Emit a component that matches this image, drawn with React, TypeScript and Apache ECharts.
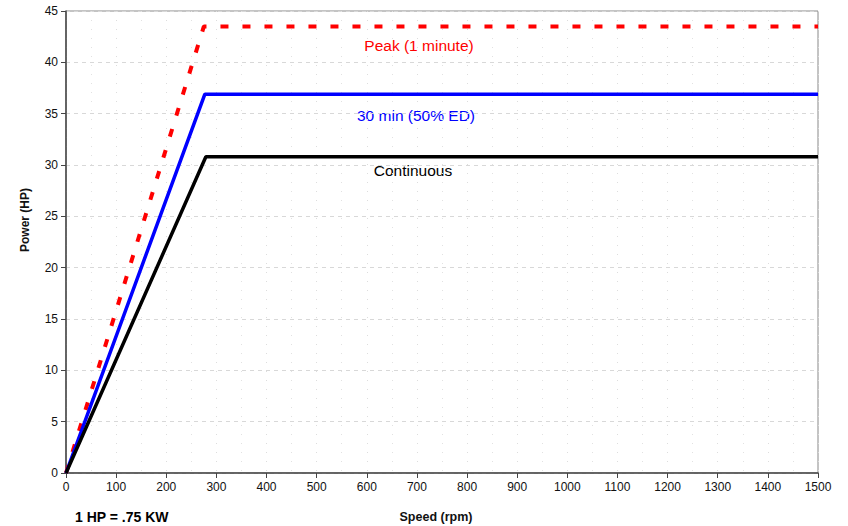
import React, { useEffect, useRef } from "react";
import * as echarts from "echarts";

const peakSpeed = [0, 275, 1500];
const peakPower = [0, 43.5, 43.5];
const thirtySpeed = [0, 277, 1500];
const thirtyPower = [0, 36.9, 36.9];
const contSpeed = [0, 279, 1500];
const contPower = [0, 30.8, 30.8];

const seriesNames = ["Peak (1 minute)", "30 min (50% ED)", "Continuous"];
const xTitle = "Speed (rpm)";
const yTitle = "Power (HP)";
const note = "1 HP = .75 KW";

const pairs = (xs: number[], ys: number[]) => xs.map((x, i) => [x, ys[i]]);

export default function App() {
  const ref = useRef<HTMLDivElement>(null);
  useEffect(() => {
    document.body.style.margin = "0";
    if (!ref.current) return;
    const chart = echarts.init(ref.current, undefined, { renderer: "svg" });
    const font = "Liberation Sans, Arial, sans-serif";
    chart.setOption({
      animation: false,
      backgroundColor: "#fff",
      grid: {
        left: 66,
        right: 30,
        top: 11,
        bottom: 53,
        show: true,
        borderColor: "#888",
        borderWidth: 1,
      },
      xAxis: {
        type: "value",
        min: 0,
        max: 1500,
        interval: 100,
        axisLine: { onZero: false, lineStyle: { color: "#444", width: 1.5 } },
        axisTick: { show: true, length: 5, lineStyle: { color: "#444" } },
        axisLabel: {
          color: "#111",
          fontFamily: font,
          fontSize: 12,
          margin: 8,
          formatter: (v: number) => String(v),
        },
        splitLine: { show: true, lineStyle: { color: "#ddd", type: [1, 8] } },
        minorTick: { show: false, splitNumber: 2 },
        minorSplitLine: { show: true, lineStyle: { color: "#e2e2e2", type: [1, 8] } },
      },
      yAxis: {
        type: "value",
        min: 0,
        max: 45,
        interval: 5,
        axisLine: { onZero: false, lineStyle: { color: "#444", width: 1.5 } },
        axisTick: { show: true, length: 5, lineStyle: { color: "#444" } },
        axisLabel: {
          color: "#111",
          fontFamily: font,
          fontSize: 12,
          margin: 8,
          formatter: (v: number) => String(v),
        },
        splitLine: { show: true, lineStyle: { color: "#d8d8d8", type: [4, 4] } },
      },
      series: [
        {
          name: seriesNames[0],
          type: "line",
          data: pairs(peakSpeed, peakPower),
          showSymbol: false,
          symbol: "none",
          lineStyle: { color: "#ff0000", width: 4, type: [8, 14] },
          z: 3,
        },
        {
          name: seriesNames[1],
          type: "line",
          data: pairs(thirtySpeed, thirtyPower),
          showSymbol: false,
          symbol: "none",
          lineStyle: { color: "#0000ff", width: 3.5 },
          z: 4,
        },
        {
          name: seriesNames[2],
          type: "line",
          data: pairs(contSpeed, contPower),
          showSymbol: false,
          symbol: "none",
          lineStyle: { color: "#000", width: 3.5 },
          z: 5,
        },
      ],
      graphic: [
        {
          type: "text",
          x: 419,
          y: 45,
          style: {
            text: seriesNames[0],
            fill: "#ff0000",
            font: `15.5px ${font}`,
            align: "center",
            verticalAlign: "middle",
          },
        },
        {
          type: "text",
          x: 416,
          y: 115,
          style: {
            text: seriesNames[1],
            fill: "#0000ff",
            font: `15.5px ${font}`,
            align: "center",
            verticalAlign: "middle",
          },
        },
        {
          type: "text",
          x: 413,
          y: 170,
          style: {
            text: seriesNames[2],
            fill: "#000",
            font: `15.5px ${font}`,
            align: "center",
            verticalAlign: "middle",
          },
        },
        {
          type: "text",
          x: 436,
          y: 517,
          style: {
            text: xTitle,
            fill: "#111",
            font: `bold 12.5px ${font}`,
            align: "center",
            verticalAlign: "middle",
          },
        },
        {
          type: "text",
          x: 25,
          y: 220,
          rotation: Math.PI / 2,
          style: {
            text: yTitle,
            fill: "#111",
            font: `bold 12px ${font}`,
            align: "center",
            verticalAlign: "middle",
          },
        },
        {
          type: "text",
          x: 75,
          y: 510,
          style: { text: note, fill: "#000", font: `bold 14px ${font}` },
        },
      ],
    });
    return () => chart.dispose();
  }, []);
  return <div ref={ref} style={{ width: 848, height: 526 }} />;
}
